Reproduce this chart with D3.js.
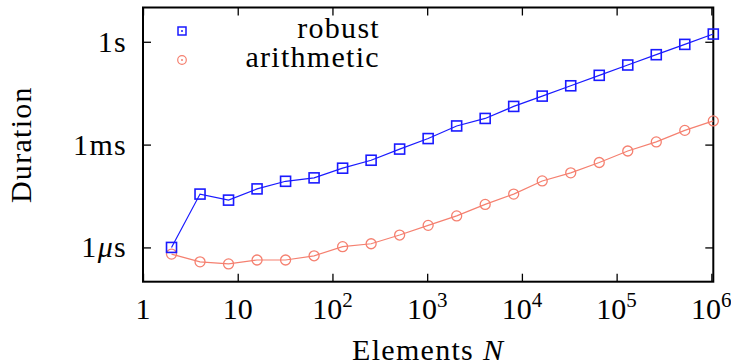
<!DOCTYPE html>
<html>
<head>
<meta charset="utf-8">
<script src="https://cdn.jsdelivr.net/npm/d3@7"></script>
<style>
body { margin: 0; background: #fff; }
text { font-family: "Liberation Serif", serif; fill: #000; letter-spacing: 1.3px; }
text.xtick { letter-spacing: 0; }
</style>
</head>
<body>
<svg id="chart" width="731" height="364"></svg>
<script>
// element counts (powers of two)
var sizes = [2, 4, 8, 16, 32, 64, 128, 256, 512, 1024, 2048, 4096, 8192, 16384,
    32768, 65536, 131072, 262144, 524288, 1048576];
// durations in seconds
var robust = [1.0e-6, 3.6e-5, 2.4e-5, 5.1e-5, 8.5e-5, 1.07e-4, 2.05e-4, 3.5e-4, 7.4e-4, 1.5e-3,
    3.5e-3, 5.8e-3, 1.3e-2, 2.6e-2, 5.2e-2, 0.105, 0.21, 0.42, 0.84, 1.68];
var arithmetic = [6.4e-7, 3.8e-7, 3.3e-7, 4.3e-7, 4.3e-7, 5.7e-7, 1.05e-6, 1.28e-6, 2.3e-6, 4.4e-6,
    8.3e-6, 1.8e-5, 3.6e-5, 8.7e-5, 1.5e-4, 3.0e-4, 6.5e-4, 1.2e-3, 2.6e-3, 4.9e-3];
var seriesNames = ["robust", "arithmetic"];
var xTicks = [1, 10, 100, 1000, 10000, 100000, 1000000];
var xTickLabels = [["1", ""], ["10", ""], ["10", "2"], ["10", "3"], ["10", "4"], ["10", "5"], ["10", "6"]];
var yTicks = [1e-6, 1e-3, 1];
var yTickLabels = [["1", "\u03bc", "s"], ["1", "", "ms"], ["1", "", "s"]];

var plotL = 143, plotR = 713.3, plotT = 7.5, plotB = 281.7;
var blue = "#1a1aff", red = "#f58070";

var chart = d3.select("#chart");

var x = d3.scaleLog().domain([1, 1048576]).range([plotL, plotR]);
var y = d3.scaleLog().domain([1e-7, 10]).range([plotB, plotT]);

// ticks on all four sides, pointing inward
var tickLen = 8;
chart.append("g").attr("transform", "translate(0," + plotB + ")")
    .call(d3.axisBottom(x).tickValues(xTicks).tickSize(-tickLen).tickFormat(""));
chart.append("g").attr("transform", "translate(0," + plotT + ")")
    .call(d3.axisTop(x).tickValues(xTicks).tickSize(-tickLen).tickFormat(""));
chart.append("g").attr("transform", "translate(" + plotL + ",0)")
    .call(d3.axisLeft(y).tickValues(yTicks).tickSize(-tickLen).tickFormat(""));
chart.append("g").attr("transform", "translate(" + plotR + ",0)")
    .call(d3.axisRight(y).tickValues(yTicks).tickSize(-tickLen).tickFormat(""));
chart.selectAll(".domain").remove();
chart.selectAll(".tick line").attr("stroke", "#000").attr("stroke-width", 1.3);

chart.append("rect")
    .attr("x", plotL).attr("y", plotT)
    .attr("width", plotR - plotL).attr("height", plotB - plotT)
    .attr("fill", "none").attr("stroke", "#000").attr("stroke-width", 2);

// x tick labels
xTicks.forEach(function(v, i){
    var t = chart.append("text")
        .attr("class", "xtick")
        .attr("x", x(v)).attr("y", 319)
        .attr("font-size", 30)
        .style("text-anchor", "middle");
    t.append("tspan").text(xTickLabels[i][0]);
    if (xTickLabels[i][1]) {
        t.append("tspan").attr("dy", -12).attr("font-size", 21).text(xTickLabels[i][1]);
    }
});

// y tick labels
yTicks.forEach(function(v, i){
    var t = chart.append("text")
        .attr("x", 127).attr("y", y(v) + 10)
        .attr("font-size", 30)
        .style("text-anchor", "end");
    t.append("tspan").text(yTickLabels[i][0]);
    if (yTickLabels[i][1]) t.append("tspan").style("font-style", "italic").text(yTickLabels[i][1]);
    t.append("tspan").text(yTickLabels[i][2]);
});

// axis titles
chart.append("text")
    .attr("transform", "translate(31," + ((plotT + plotB) / 2) + ") rotate(-90)")
    .attr("font-size", 30)
    .style("text-anchor", "middle")
    .text("Duration");
var xt = chart.append("text")
    .attr("x", (plotL + plotR) / 2).attr("y", 360)
    .attr("font-size", 30)
    .style("text-anchor", "middle");
xt.append("tspan").text("Elements ");
xt.append("tspan").style("font-style", "italic").text("N");

// series
var line = d3.line().x(function(d){ return x(d[0]); }).y(function(d){ return y(d[1]); });
var robustPts = d3.zip(sizes, robust);
var arithPts = d3.zip(sizes, arithmetic);

chart.append("path").datum(arithPts).attr("d", line)
    .attr("fill", "none").attr("stroke", red).attr("stroke-width", 1.2);
chart.selectAll(".arith").data(arithPts).enter().append("circle")
    .attr("class", "arith")
    .attr("cx", function(d){ return x(d[0]); })
    .attr("cy", function(d){ return y(d[1]); })
    .attr("r", 5)
    .attr("fill", "none").attr("stroke", red).attr("stroke-width", 1.3);

chart.append("path").datum(robustPts).attr("d", line)
    .attr("fill", "none").attr("stroke", blue).attr("stroke-width", 1.2);
chart.selectAll(".robust").data(robustPts).enter().append("rect")
    .attr("class", "robust")
    .attr("x", function(d){ return x(d[0]) - 5; })
    .attr("y", function(d){ return y(d[1]) - 5; })
    .attr("width", 10).attr("height", 10)
    .attr("fill", "none").attr("stroke", blue).attr("stroke-width", 1.6);

// legend
var legY = [31, 60];
chart.append("rect").attr("x", 182 - 4).attr("y", legY[0] - 4)
    .attr("width", 8).attr("height", 8)
    .attr("fill", "none").attr("stroke", blue).attr("stroke-width", 1.5);
chart.append("circle").attr("cx", 182).attr("cy", legY[0]).attr("r", 1).attr("fill", blue);
chart.append("circle").attr("cx", 182).attr("cy", legY[1]).attr("r", 4.3)
    .attr("fill", "none").attr("stroke", red).attr("stroke-width", 1.2);
chart.append("circle").attr("cx", 182).attr("cy", legY[1]).attr("r", 1).attr("fill", red);
seriesNames.forEach(function(name, i){
    chart.append("text")
        .attr("x", 380).attr("y", legY[i] + 7)
        .attr("font-size", 30)
        .style("text-anchor", "end")
        .text(name);
});
</script>
</body>
</html>
